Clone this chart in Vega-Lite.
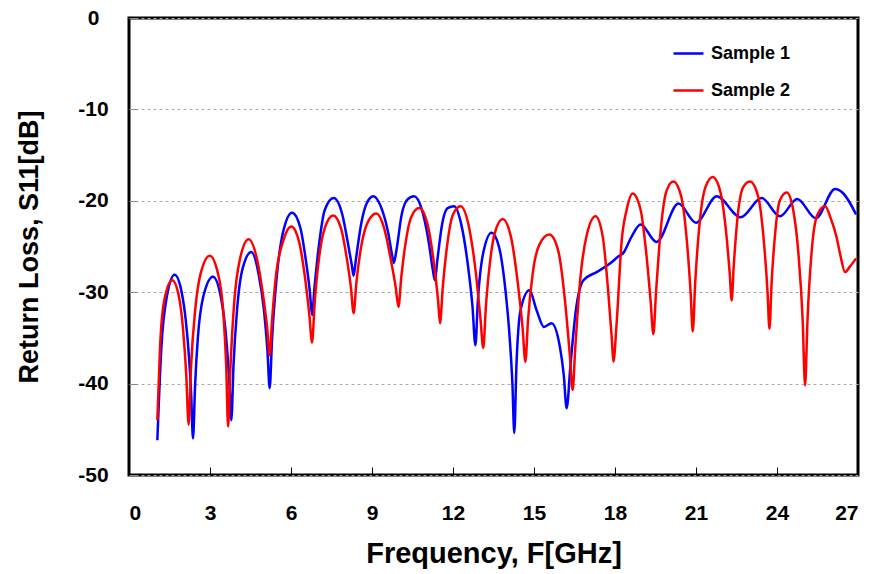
{
  "$schema": "https://vega.github.io/schema/vega-lite/v6.json",
  "width": 729,
  "height": 457,
  "autosize": {"type": "none"},
  "padding": {"left": 129, "top": 18, "right": 17, "bottom": 99},
  "background": "white",
  "config": {
    "font": "Liberation Sans",
    "view": {"stroke": "black", "strokeWidth": 3},
    "axis": {"labelFont": "Liberation Sans", "labelFontWeight": "bold", "labelColor": "black", "titleFont": "Liberation Sans", "titleFontWeight": "bold", "titleColor": "black", "domain": false}
  },
  "data": {"values": [
    {"f":1.05,"db":-46.2,"s":"Sample 1"},{"f":1.2,"db":-36,"s":"Sample 1"},{"f":1.4,"db":-30.5,"s":"Sample 1"},{"f":1.69,"db":-28.1,"s":"Sample 1"},{"f":1.95,"db":-30,"s":"Sample 1"},{"f":2.1,"db":-33,"s":"Sample 1"},{"f":2.22,"db":-37,"s":"Sample 1"},{"f":2.3,"db":-41,"s":"Sample 1"},{"f":2.37,"db":-46.0,"s":"Sample 1"},{"f":2.45,"db":-40,"s":"Sample 1"},{"f":2.55,"db":-35,"s":"Sample 1"},{"f":2.75,"db":-30.5,"s":"Sample 1"},{"f":3.11,"db":-28.3,"s":"Sample 1"},{"f":3.4,"db":-30.5,"s":"Sample 1"},{"f":3.6,"db":-35,"s":"Sample 1"},{"f":3.72,"db":-40,"s":"Sample 1"},{"f":3.79,"db":-44,"s":"Sample 1"},{"f":3.87,"db":-38,"s":"Sample 1"},{"f":4.0,"db":-32,"s":"Sample 1"},{"f":4.2,"db":-27.5,"s":"Sample 1"},{"f":4.53,"db":-25.6,"s":"Sample 1"},{"f":4.8,"db":-28,"s":"Sample 1"},{"f":5.0,"db":-32,"s":"Sample 1"},{"f":5.13,"db":-36.5,"s":"Sample 1"},{"f":5.21,"db":-40.5,"s":"Sample 1"},{"f":5.3,"db":-35,"s":"Sample 1"},{"f":5.45,"db":-29,"s":"Sample 1"},{"f":5.7,"db":-23.5,"s":"Sample 1"},{"f":6.04,"db":-21.3,"s":"Sample 1"},{"f":6.35,"db":-23,"s":"Sample 1"},{"f":6.55,"db":-26.5,"s":"Sample 1"},{"f":6.7,"db":-30,"s":"Sample 1"},{"f":6.78,"db":-32.5,"s":"Sample 1"},{"f":6.87,"db":-29.5,"s":"Sample 1"},{"f":7.05,"db":-24.5,"s":"Sample 1"},{"f":7.25,"db":-21,"s":"Sample 1"},{"f":7.58,"db":-19.7,"s":"Sample 1"},{"f":7.9,"db":-21.5,"s":"Sample 1"},{"f":8.1,"db":-24.5,"s":"Sample 1"},{"f":8.25,"db":-27,"s":"Sample 1"},{"f":8.32,"db":-28.2,"s":"Sample 1"},{"f":8.4,"db":-26.5,"s":"Sample 1"},{"f":8.6,"db":-22.5,"s":"Sample 1"},{"f":8.8,"db":-20.3,"s":"Sample 1"},{"f":9.05,"db":-19.5,"s":"Sample 1"},{"f":9.35,"db":-20.8,"s":"Sample 1"},{"f":9.6,"db":-23.5,"s":"Sample 1"},{"f":9.75,"db":-26,"s":"Sample 1"},{"f":9.81,"db":-26.8,"s":"Sample 1"},{"f":9.9,"db":-25.5,"s":"Sample 1"},{"f":10.1,"db":-21.5,"s":"Sample 1"},{"f":10.3,"db":-19.9,"s":"Sample 1"},{"f":10.56,"db":-19.5,"s":"Sample 1"},{"f":10.85,"db":-21,"s":"Sample 1"},{"f":11.1,"db":-24.5,"s":"Sample 1"},{"f":11.25,"db":-27.5,"s":"Sample 1"},{"f":11.33,"db":-28.7,"s":"Sample 1"},{"f":11.42,"db":-26.5,"s":"Sample 1"},{"f":11.6,"db":-22.5,"s":"Sample 1"},{"f":11.8,"db":-20.8,"s":"Sample 1"},{"f":12.04,"db":-20.6,"s":"Sample 1"},{"f":12.3,"db":-22.5,"s":"Sample 1"},{"f":12.55,"db":-27,"s":"Sample 1"},{"f":12.72,"db":-31.5,"s":"Sample 1"},{"f":12.83,"db":-35.8,"s":"Sample 1"},{"f":12.92,"db":-31,"s":"Sample 1"},{"f":13.1,"db":-26,"s":"Sample 1"},{"f":13.43,"db":-23.5,"s":"Sample 1"},{"f":13.7,"db":-25,"s":"Sample 1"},{"f":13.95,"db":-30,"s":"Sample 1"},{"f":14.1,"db":-35,"s":"Sample 1"},{"f":14.2,"db":-40,"s":"Sample 1"},{"f":14.27,"db":-45.4,"s":"Sample 1"},{"f":14.35,"db":-38,"s":"Sample 1"},{"f":14.5,"db":-32,"s":"Sample 1"},{"f":14.83,"db":-29.8,"s":"Sample 1"},{"f":15.1,"db":-32,"s":"Sample 1"},{"f":15.37,"db":-33.8,"s":"Sample 1"},{"f":15.65,"db":-33.4,"s":"Sample 1"},{"f":15.96,"db":-36,"s":"Sample 1"},{"f":16.1,"db":-39,"s":"Sample 1"},{"f":16.21,"db":-42.7,"s":"Sample 1"},{"f":16.35,"db":-38,"s":"Sample 1"},{"f":16.55,"db":-32,"s":"Sample 1"},{"f":16.83,"db":-28.7,"s":"Sample 1"},{"f":17.32,"db":-27.8,"s":"Sample 1"},{"f":17.8,"db":-26.9,"s":"Sample 1"},{"f":18.12,"db":-26.1,"s":"Sample 1"},{"f":18.31,"db":-25.7,"s":"Sample 1"},{"f":18.6,"db":-24,"s":"Sample 1"},{"f":18.95,"db":-22.6,"s":"Sample 1"},{"f":19.54,"db":-24.5,"s":"Sample 1"},{"f":20.35,"db":-20.3,"s":"Sample 1"},{"f":21.0,"db":-22.4,"s":"Sample 1"},{"f":21.77,"db":-19.5,"s":"Sample 1"},{"f":22.65,"db":-21.8,"s":"Sample 1"},{"f":23.43,"db":-19.7,"s":"Sample 1"},{"f":24.11,"db":-21.7,"s":"Sample 1"},{"f":24.75,"db":-19.8,"s":"Sample 1"},{"f":25.44,"db":-21.9,"s":"Sample 1"},{"f":26.15,"db":-18.7,"s":"Sample 1"},{"f":26.46,"db":-19.2,"s":"Sample 1"},{"f":26.93,"db":-21.5,"s":"Sample 1"},
    {"f":1.05,"db":-44,"s":"Sample 2"},{"f":1.15,"db":-36,"s":"Sample 2"},{"f":1.3,"db":-31,"s":"Sample 2"},{"f":1.6,"db":-28.7,"s":"Sample 2"},{"f":1.85,"db":-30.5,"s":"Sample 2"},{"f":2.0,"db":-34,"s":"Sample 2"},{"f":2.12,"db":-39,"s":"Sample 2"},{"f":2.21,"db":-44.5,"s":"Sample 2"},{"f":2.3,"db":-38,"s":"Sample 2"},{"f":2.45,"db":-32,"s":"Sample 2"},{"f":2.65,"db":-28,"s":"Sample 2"},{"f":2.99,"db":-26.0,"s":"Sample 2"},{"f":3.3,"db":-28,"s":"Sample 2"},{"f":3.5,"db":-32.5,"s":"Sample 2"},{"f":3.6,"db":-38,"s":"Sample 2"},{"f":3.67,"db":-44.7,"s":"Sample 2"},{"f":3.76,"db":-38,"s":"Sample 2"},{"f":3.9,"db":-31,"s":"Sample 2"},{"f":4.1,"db":-26.5,"s":"Sample 2"},{"f":4.43,"db":-24.2,"s":"Sample 2"},{"f":4.75,"db":-26.5,"s":"Sample 2"},{"f":4.95,"db":-30,"s":"Sample 2"},{"f":5.12,"db":-34,"s":"Sample 2"},{"f":5.21,"db":-36.9,"s":"Sample 2"},{"f":5.3,"db":-33,"s":"Sample 2"},{"f":5.45,"db":-28,"s":"Sample 2"},{"f":5.7,"db":-24.5,"s":"Sample 2"},{"f":6.01,"db":-22.8,"s":"Sample 2"},{"f":6.3,"db":-24.5,"s":"Sample 2"},{"f":6.5,"db":-28,"s":"Sample 2"},{"f":6.68,"db":-32.5,"s":"Sample 2"},{"f":6.78,"db":-35.5,"s":"Sample 2"},{"f":6.88,"db":-31,"s":"Sample 2"},{"f":7.05,"db":-26,"s":"Sample 2"},{"f":7.25,"db":-23,"s":"Sample 2"},{"f":7.56,"db":-21.6,"s":"Sample 2"},{"f":7.85,"db":-23,"s":"Sample 2"},{"f":8.05,"db":-26,"s":"Sample 2"},{"f":8.22,"db":-29.5,"s":"Sample 2"},{"f":8.32,"db":-32.3,"s":"Sample 2"},{"f":8.42,"db":-29,"s":"Sample 2"},{"f":8.6,"db":-25,"s":"Sample 2"},{"f":8.85,"db":-22.3,"s":"Sample 2"},{"f":9.16,"db":-21.4,"s":"Sample 2"},{"f":9.45,"db":-23,"s":"Sample 2"},{"f":9.7,"db":-26.5,"s":"Sample 2"},{"f":9.88,"db":-29.5,"s":"Sample 2"},{"f":9.98,"db":-31.6,"s":"Sample 2"},{"f":10.08,"db":-28.5,"s":"Sample 2"},{"f":10.25,"db":-24.5,"s":"Sample 2"},{"f":10.45,"db":-21.8,"s":"Sample 2"},{"f":10.75,"db":-20.8,"s":"Sample 2"},{"f":11.05,"db":-22.5,"s":"Sample 2"},{"f":11.3,"db":-27,"s":"Sample 2"},{"f":11.45,"db":-31,"s":"Sample 2"},{"f":11.52,"db":-33.4,"s":"Sample 2"},{"f":11.62,"db":-29.5,"s":"Sample 2"},{"f":11.8,"db":-24.5,"s":"Sample 2"},{"f":12.0,"db":-21.5,"s":"Sample 2"},{"f":12.28,"db":-20.6,"s":"Sample 2"},{"f":12.6,"db":-23,"s":"Sample 2"},{"f":12.85,"db":-28,"s":"Sample 2"},{"f":13.02,"db":-33,"s":"Sample 2"},{"f":13.12,"db":-36.1,"s":"Sample 2"},{"f":13.22,"db":-31.5,"s":"Sample 2"},{"f":13.4,"db":-26,"s":"Sample 2"},{"f":13.55,"db":-23.5,"s":"Sample 2"},{"f":13.84,"db":-22.0,"s":"Sample 2"},{"f":14.15,"db":-24,"s":"Sample 2"},{"f":14.4,"db":-29,"s":"Sample 2"},{"f":14.58,"db":-34,"s":"Sample 2"},{"f":14.68,"db":-37.6,"s":"Sample 2"},{"f":14.78,"db":-33,"s":"Sample 2"},{"f":14.95,"db":-28,"s":"Sample 2"},{"f":15.2,"db":-24.8,"s":"Sample 2"},{"f":15.57,"db":-23.7,"s":"Sample 2"},{"f":15.9,"db":-25.5,"s":"Sample 2"},{"f":16.15,"db":-31,"s":"Sample 2"},{"f":16.33,"db":-37,"s":"Sample 2"},{"f":16.43,"db":-40.7,"s":"Sample 2"},{"f":16.53,"db":-36,"s":"Sample 2"},{"f":16.7,"db":-29,"s":"Sample 2"},{"f":16.95,"db":-23.8,"s":"Sample 2"},{"f":17.28,"db":-21.7,"s":"Sample 2"},{"f":17.55,"db":-24,"s":"Sample 2"},{"f":17.75,"db":-30,"s":"Sample 2"},{"f":17.88,"db":-35,"s":"Sample 2"},{"f":17.94,"db":-37.6,"s":"Sample 2"},{"f":18.06,"db":-33.4,"s":"Sample 2"},{"f":18.25,"db":-24.3,"s":"Sample 2"},{"f":18.43,"db":-21,"s":"Sample 2"},{"f":18.65,"db":-19.2,"s":"Sample 2"},{"f":18.95,"db":-21,"s":"Sample 2"},{"f":19.15,"db":-25.5,"s":"Sample 2"},{"f":19.32,"db":-31,"s":"Sample 2"},{"f":19.42,"db":-34.6,"s":"Sample 2"},{"f":19.52,"db":-30,"s":"Sample 2"},{"f":19.7,"db":-23,"s":"Sample 2"},{"f":19.9,"db":-19,"s":"Sample 2"},{"f":20.16,"db":-17.9,"s":"Sample 2"},{"f":20.45,"db":-19.5,"s":"Sample 2"},{"f":20.65,"db":-24,"s":"Sample 2"},{"f":20.8,"db":-30,"s":"Sample 2"},{"f":20.88,"db":-34.3,"s":"Sample 2"},{"f":20.97,"db":-29,"s":"Sample 2"},{"f":21.15,"db":-22,"s":"Sample 2"},{"f":21.35,"db":-18.5,"s":"Sample 2"},{"f":21.62,"db":-17.4,"s":"Sample 2"},{"f":21.9,"db":-19,"s":"Sample 2"},{"f":22.1,"db":-23,"s":"Sample 2"},{"f":22.25,"db":-28,"s":"Sample 2"},{"f":22.32,"db":-30.9,"s":"Sample 2"},{"f":22.4,"db":-27,"s":"Sample 2"},{"f":22.55,"db":-21.5,"s":"Sample 2"},{"f":22.75,"db":-18.5,"s":"Sample 2"},{"f":23.0,"db":-17.9,"s":"Sample 2"},{"f":23.3,"db":-19.5,"s":"Sample 2"},{"f":23.5,"db":-24,"s":"Sample 2"},{"f":23.65,"db":-30,"s":"Sample 2"},{"f":23.72,"db":-34.0,"s":"Sample 2"},{"f":23.8,"db":-29,"s":"Sample 2"},{"f":23.95,"db":-23,"s":"Sample 2"},{"f":24.1,"db":-20,"s":"Sample 2"},{"f":24.36,"db":-19.1,"s":"Sample 2"},{"f":24.6,"db":-21,"s":"Sample 2"},{"f":24.8,"db":-26,"s":"Sample 2"},{"f":24.95,"db":-33,"s":"Sample 2"},{"f":25.04,"db":-40.2,"s":"Sample 2"},{"f":25.13,"db":-33,"s":"Sample 2"},{"f":25.3,"db":-25,"s":"Sample 2"},{"f":25.5,"db":-21.5,"s":"Sample 2"},{"f":25.78,"db":-20.6,"s":"Sample 2"},{"f":26.0,"db":-22,"s":"Sample 2"},{"f":26.2,"db":-23.9,"s":"Sample 2"},{"f":26.35,"db":-26,"s":"Sample 2"},{"f":26.52,"db":-27.8,"s":"Sample 2"},{"f":26.7,"db":-27.2,"s":"Sample 2"},{"f":26.93,"db":-26.3,"s":"Sample 2"}
  ]},
  "mark": {"type": "line", "interpolate": "monotone", "strokeWidth": 2.5, "clip": true},
  "encoding": {
    "x": {"field": "f", "type": "quantitative",
      "scale": {"domain": [0, 27], "nice": false, "zero": false},
      "axis": {"values": [0,3,6,9,12,15,18,21,24,27], "grid": false, "tickSize": -8, "tickColor": "black", "tickWidth": 1, "labelFontSize": 21, "labelPadding": 35, "labelBaseline": "top", "title": "Frequency, F[GHz]", "titleFontSize": 29, "titleX": 364.5, "titleY": 78, "titleBaseline": "middle"}},
    "y": {"field": "db", "type": "quantitative",
      "scale": {"domain": [-50, 0], "nice": false, "zero": false},
      "axis": {"values": [-50,-40,-30,-20,-10,0], "labelExpr": "replace(datum.label, '−', '-')", "grid": true, "gridDash": [3,3], "gridColor": "#aaaaaa", "gridWidth": 1, "tickSize": -8, "tickColor": "#888888", "tickWidth": 1, "labelFontSize": 21, "labelAlign": "center", "labelBaseline": "middle", "labelPadding": 44, "title": "Return Loss, S11[dB]", "titleFontSize": 27, "titleX": -100, "titleY": 228.5, "titleAngle": -90, "titleBaseline": "middle"}},
    "color": {"field": "s", "type": "nominal",
      "scale": {"domain": ["Sample 1", "Sample 2"], "range": ["#0000ff", "#ff0000"]},
      "legend": {"title": null, "orient": "none", "legendX": 543, "legendY": 19, "symbolType": "stroke", "symbolSize": 900, "symbolStrokeWidth": 2.5, "labelFontSize": 18, "labelFont": "Liberation Sans", "labelFontWeight": "bold", "labelColor": "black", "labelOffset": 6, "rowPadding": 11}}
  }
}
